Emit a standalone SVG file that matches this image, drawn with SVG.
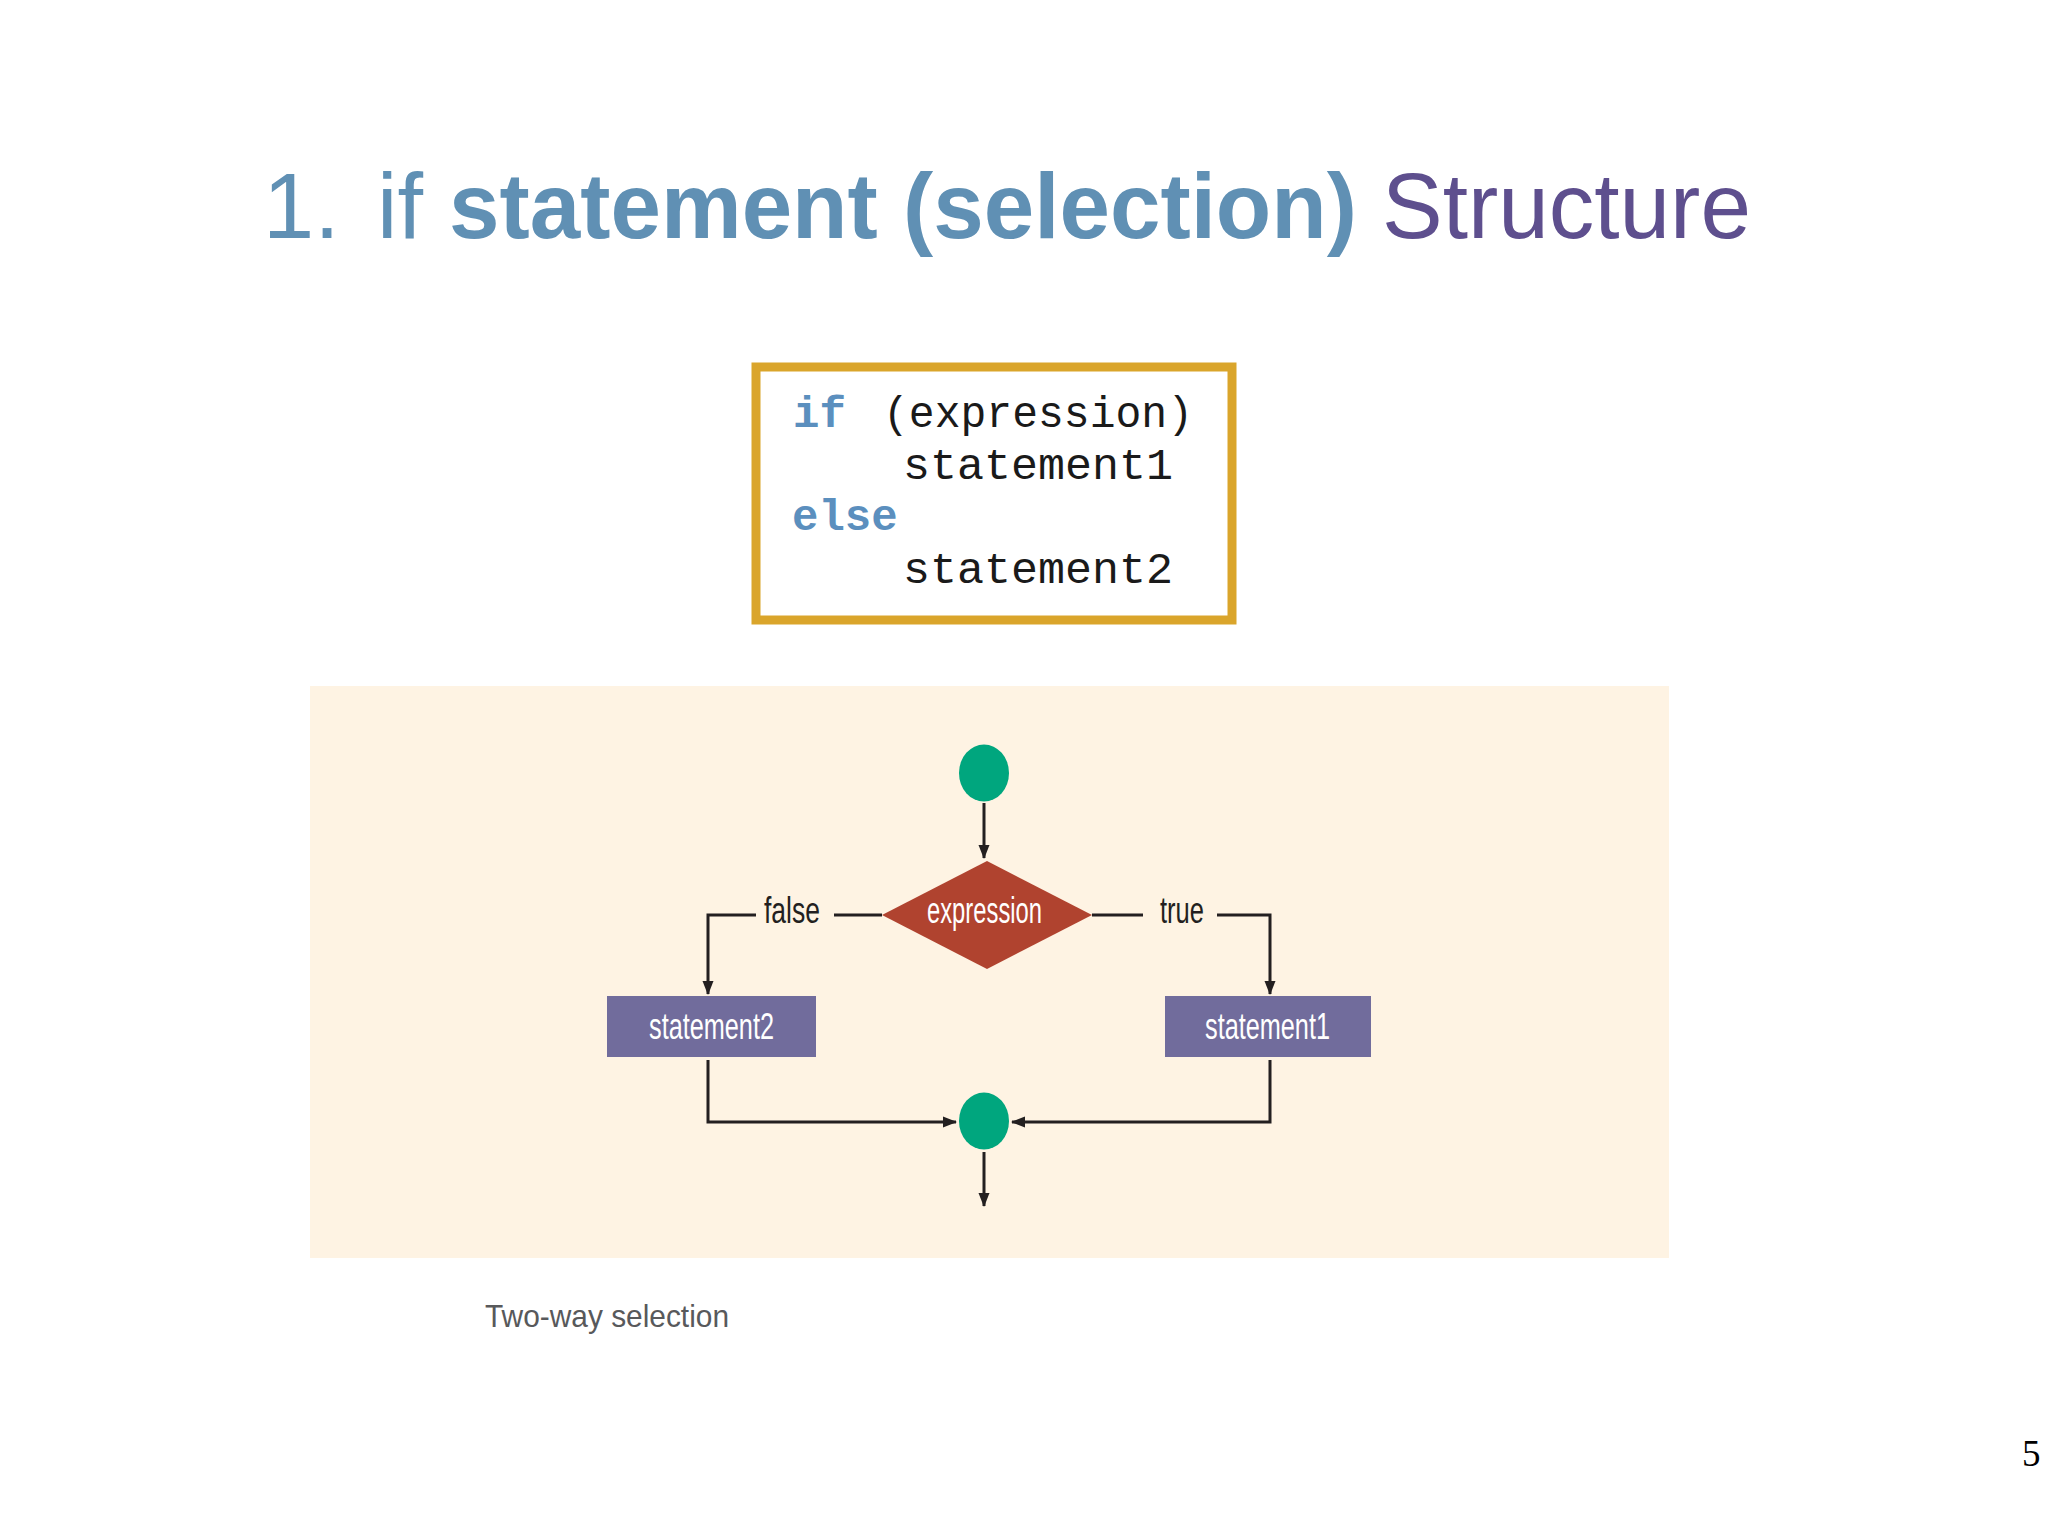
<svg xmlns="http://www.w3.org/2000/svg" width="2048" height="1536" viewBox="0 0 2048 1536">
<style>
  .title { font-family: "Liberation Sans", Arial, sans-serif; font-size: 92px; fill: #6090B4; }
  .code { font-family: "Liberation Mono", "Courier New", monospace; font-size: 44px; fill: #1a1a1a; }
  .kw { fill: #5B8FBE; font-weight: bold; }
  .cond { font-family: "Liberation Sans", Arial, sans-serif; font-size: 36px; }
  .lbl { fill: #231F20; }
  .wt { fill: #FFFFFF; }
  .conn { fill: none; stroke: #231F20; stroke-width: 3; }
  .term { fill: #00A67E; }
  .box { fill: #716C9C; }
</style>
<defs>
  <marker id="arr" markerUnits="userSpaceOnUse" markerWidth="14" markerHeight="14" viewBox="0 0 14 14" refX="13" refY="7" orient="auto">
    <path d="M0,1.5 L14,7 L0,12.5 Z" fill="#231F20"/>
  </marker>
</defs>
<rect x="0" y="0" width="2048" height="1536" fill="#FFFFFF"/>

<g id="title">
  <text class="title" x="263" y="238">1.</text>
  <text class="title" x="377" y="238">if</text>
  <text class="title" x="449" y="238" font-weight="bold" textLength="908" lengthAdjust="spacingAndGlyphs">statement (selection)</text>
  <text class="title" x="1382" y="238" fill="#5E4F8E" style="fill:#5E4F8E" textLength="369" lengthAdjust="spacingAndGlyphs">Structure</text>
</g>

<g id="code-box">
  <rect x="756" y="367" width="476" height="253" fill="#FFFFFF" stroke="#DAA52B" stroke-width="9"/>
  <text class="code kw" x="793" y="427">if</text>
  <text class="code" x="883" y="427" textLength="310" lengthAdjust="spacingAndGlyphs">(expression)</text>
  <text class="code" x="903" y="479" textLength="270" lengthAdjust="spacingAndGlyphs">statement1</text>
  <text class="code kw" x="792" y="530">else</text>
  <text class="code" x="903" y="583" textLength="270" lengthAdjust="spacingAndGlyphs">statement2</text>
</g>

<rect id="flow-background" x="310" y="686" width="1359" height="572" fill="#FEF3E3"/>

<g id="connectors">
  <path class="conn" d="M984 803 V858" marker-end="url(#arr)"/>
  <path class="conn" d="M882 915 H834"/>
  <path class="conn" d="M756 915 H708 V994" marker-end="url(#arr)"/>
  <path class="conn" d="M1092 915 H1143"/>
  <path class="conn" d="M1217 915 H1270 V994" marker-end="url(#arr)"/>
  <path class="conn" d="M708 1060 V1122 H956" marker-end="url(#arr)"/>
  <path class="conn" d="M1270 1060 V1122 H1012" marker-end="url(#arr)"/>
  <path class="conn" d="M984 1152 V1206" marker-end="url(#arr)"/>
  <text class="cond lbl" x="764" y="923" textLength="56" lengthAdjust="spacingAndGlyphs">false</text>
  <text class="cond lbl" x="1160" y="923" textLength="44" lengthAdjust="spacingAndGlyphs">true</text>
</g>

<g id="start">
  <ellipse class="term" cx="984" cy="773" rx="25" ry="28.5"/>
</g>

<g id="expression">
  <polygon points="987,861 1092,915 987,969 882,915" fill="#B0432F"/>
  <text class="cond wt" x="927" y="923" textLength="115" lengthAdjust="spacingAndGlyphs">expression</text>
</g>

<g id="statement2">
  <rect class="box" x="607" y="996" width="209" height="61"/>
  <text class="cond wt" x="649" y="1039" textLength="125" lengthAdjust="spacingAndGlyphs">statement2</text>
</g>

<g id="statement1">
  <rect class="box" x="1165" y="996" width="206" height="61"/>
  <text class="cond wt" x="1205" y="1039" textLength="125" lengthAdjust="spacingAndGlyphs">statement1</text>
</g>

<g id="join">
  <ellipse class="term" cx="984" cy="1121" rx="25" ry="28.5"/>
</g>

<text id="caption" x="485" y="1327" font-family="'Liberation Sans', Arial, sans-serif" font-size="32" fill="#58595B" textLength="244" lengthAdjust="spacingAndGlyphs">Two-way selection</text>

<text id="page-number" x="2022" y="1466" font-family="'Liberation Serif', 'Times New Roman', serif" font-size="37" fill="#000000">5</text>
</svg>
